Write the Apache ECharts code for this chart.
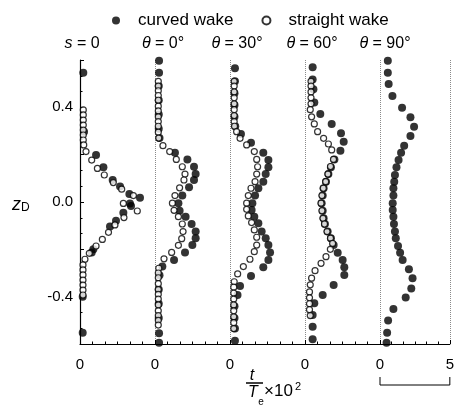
<!DOCTYPE html>
<html>
<head>
<meta charset="utf-8">
<script src="https://cdn.jsdelivr.net/npm/echarts@6/dist/echarts.min.js"></script>
<style>html,body{margin:0;padding:0;background:#fff;}#main{width:457px;height:410px;}</style>
</head>
<body>
<div id="main"></div>
<script>
// ---- data: [t/Te x 10^2 , zD] per panel ----
const panelSymbols = ['s', 'θ', 'θ', 'θ', 'θ'];
const panelValues = ['0', '0°', '30°', '60°', '90°'];
const xTickLabels = ['0', '5'];
const yTickValues = [-0.4, 0, 0.4];

const curvedS0 = [[0.22,0.546],[0.27,0.297],[1.07,0.199],[1.56,0.147],[2.18,0.093],[2.67,0.065],[3.29,0.034],[4.0,0.018],[3.33,-0.006],[3.4,-0.017],[2.89,-0.045],[2.4,-0.079],[2.0,-0.104],[0.89,-0.2],[0.78,-0.213],[0.18,-0.4],[0.18,-0.552]];
const straightS0 = [[0.22,0.389],[0.22,0.368],[0.22,0.346],[0.22,0.325],[0.22,0.304],[0.22,0.283],[0.22,0.262],[0.25,0.241],[0.4,0.213],[0.78,0.177],[1.16,0.142],[1.62,0.114],[2.22,0.082],[2.78,0.054],[3.56,0.027],[2.89,-0.006],[3.82,-0.038],[2.93,-0.066],[2.33,-0.097],[1.9,-0.128],[1.49,-0.158],[1.07,-0.186],[0.62,-0.217],[0.33,-0.242],[0.2,-0.266],[0.2,-0.287],[0.2,-0.308],[0.2,-0.33],[0.2,-0.351],[0.2,-0.372],[0.2,-0.393]];

const curvedT0 = [[0.27,0.597],[0.27,0.546],[0.25,0.49],[0.25,0.43],[0.25,0.37],[0.25,0.31],[0.3,0.27],[1.33,0.208],[2.16,0.18],[2.6,0.149],[2.71,0.118],[2.6,0.093],[2.27,0.062],[1.82,0.027],[1.56,-0.005],[1.64,-0.037],[2.04,-0.062],[2.44,-0.093],[2.71,-0.125],[2.71,-0.153],[2.49,-0.182],[2.0,-0.213],[1.27,-0.245],[0.49,-0.273],[0.3,-0.31],[0.25,-0.37],[0.25,-0.43],[0.25,-0.49],[0.27,-0.555],[0.27,-0.595]];
const straightT0 = [[0.22,0.51],[0.22,0.49],[0.22,0.47],[0.22,0.45],[0.22,0.43],[0.22,0.405],[0.22,0.385],[0.22,0.36],[0.22,0.34],[0.22,0.32],[0.22,0.295],[0.25,0.27],[0.53,0.238],[0.98,0.213],[1.42,0.18],[1.82,0.149],[2.0,0.118],[1.93,0.093],[1.64,0.06],[1.33,0.027],[1.16,-0.005],[1.27,-0.035],[1.56,-0.062],[1.82,-0.093],[1.87,-0.125],[1.78,-0.155],[1.56,-0.183],[1.11,-0.213],[0.6,-0.24],[0.25,-0.28],[0.22,-0.30],[0.22,-0.32],[0.22,-0.345],[0.22,-0.37],[0.22,-0.39],[0.22,-0.41],[0.22,-0.435],[0.22,-0.46],[0.22,-0.48],[0.22,-0.50],[0.22,-0.52]];

const curvedT30 = [[0.33,0.565],[0.33,0.51],[0.3,0.46],[0.3,0.41],[0.3,0.36],[0.35,0.32],[0.73,0.287],[1.4,0.25],[2.22,0.208],[2.56,0.177],[2.56,0.147],[2.38,0.118],[2.22,0.086],[1.89,0.058],[1.67,0.027],[1.49,-0.005],[1.44,-0.034],[1.62,-0.062],[1.89,-0.09],[2.11,-0.125],[2.38,-0.153],[2.56,-0.182],[2.67,-0.213],[2.56,-0.245],[2.22,-0.276],[1.4,-0.313],[0.67,-0.355],[0.5,-0.393],[0.3,-0.44],[0.3,-0.49],[0.33,-0.534],[0.33,-0.586]];
const straightT30 = [[0.28,0.51],[0.28,0.49],[0.28,0.465],[0.28,0.44],[0.28,0.415],[0.28,0.39],[0.28,0.365],[0.28,0.34],[0.3,0.32],[0.44,0.297],[0.67,0.269],[1.11,0.241],[1.62,0.213],[1.78,0.18],[1.84,0.149],[1.78,0.118],[1.67,0.086],[1.4,0.058],[1.22,0.027],[1.11,-0.005],[1.11,-0.031],[1.22,-0.059],[1.44,-0.087],[1.62,-0.118],[1.78,-0.149],[1.78,-0.182],[1.62,-0.21],[1.33,-0.242],[0.89,-0.273],[0.51,-0.304],[0.28,-0.337],[0.25,-0.36],[0.25,-0.385],[0.25,-0.41],[0.25,-0.435],[0.25,-0.46],[0.25,-0.485],[0.25,-0.51],[0.25,-0.535]];

const curvedT60 = [[0.51,0.569],[0.51,0.518],[0.56,0.476],[0.62,0.42],[1.02,0.372],[1.78,0.33],[2.4,0.29],[2.58,0.255],[2.36,0.217],[1.96,0.18],[1.73,0.147],[1.56,0.118],[1.4,0.086],[1.24,0.058],[1.18,0.027],[1.11,-0.005],[1.18,-0.037],[1.24,-0.069],[1.33,-0.093],[1.51,-0.125],[1.73,-0.153],[1.91,-0.182],[2.18,-0.214],[2.51,-0.245],[2.62,-0.276],[2.62,-0.308],[1.91,-0.351],[1.18,-0.393],[0.62,-0.428],[0.51,-0.477],[0.51,-0.527],[0.51,-0.58]];
const straightT60 = [[0.4,0.51],[0.4,0.49],[0.4,0.465],[0.4,0.44],[0.4,0.415],[0.35,0.39],[0.44,0.36],[0.62,0.33],[0.84,0.297],[1.24,0.269],[1.56,0.245],[1.78,0.22],[1.9,0.18],[1.7,0.15],[1.53,0.118],[1.38,0.086],[1.22,0.058],[1.13,0.027],[1.07,-0.005],[1.13,-0.037],[1.2,-0.069],[1.3,-0.093],[1.47,-0.125],[1.7,-0.153],[1.84,-0.175],[1.69,-0.2],[1.4,-0.231],[1.07,-0.259],[0.67,-0.29],[0.44,-0.322],[0.35,-0.35],[0.3,-0.38],[0.3,-0.405],[0.3,-0.43],[0.3,-0.455],[0.35,-0.48]];

const curvedT90 = [[0.56,0.597],[0.56,0.546],[0.62,0.499],[0.89,0.448],[1.58,0.398],[2.18,0.358],[2.44,0.318],[2.18,0.279],[1.73,0.238],[1.51,0.208],[1.33,0.177],[1.18,0.147],[1.07,0.114],[1.02,0.086],[0.96,0.058],[0.96,0.027],[0.91,-0.005],[0.91,-0.034],[0.96,-0.062],[1.0,-0.093],[1.07,-0.125],[1.13,-0.153],[1.29,-0.186],[1.44,-0.214],[1.62,-0.245],[2.07,-0.284],[2.33,-0.322],[2.24,-0.365],[1.84,-0.404],[0.96,-0.452],[0.58,-0.501],[0.51,-0.552],[0.47,-0.595]];

const curvedPanels = [curvedS0, curvedT0, curvedT30, curvedT60, curvedT90];
const straightPanels = [straightS0, straightT0, straightT30, straightT60, null];

// ---- layout / style ----
const FONT = '"Liberation Sans", Arial, Helvetica, sans-serif';
const N = 5, PLOT_LEFT = 80, PANEL_W = 75, PLOT_TOP = 60, PLOT_H = 284;
const titleCenters = [82, 163, 237, 312, 385];

const grids = [], xAxes = [], yAxes = [], series = [];
for (let i = 0; i < N; i++) {
  grids.push({ left: PLOT_LEFT + PANEL_W * i, top: PLOT_TOP, width: PANEL_W, height: PLOT_H });
  xAxes.push({
    gridIndex: i, type: 'value', min: 0, max: 5, interval: 5,
    axisLine: { show: true, onZero: false, lineStyle: { color: '#000', width: 1.2 } },
    axisTick: { show: true, inside: true, length: 4, lineStyle: { color: '#000' } },
    minorTick: { show: true, splitNumber: 6, length: 2.5, lineStyle: { color: '#000' } },
    axisLabel: {
      customValues: i === N - 1 ? [0, 5] : [0],
      formatter: v => (v === 5 ? xTickLabels[1] : xTickLabels[0]),
      fontSize: 15, color: '#000', margin: 13, fontFamily: FONT
    },
    splitLine: { show: true, lineStyle: { type: 'dotted', color: '#8a8a8a', width: 1 } }
  });
  if (i === 0) {
    yAxes.push({
      gridIndex: 0, type: 'value', min: -0.6, max: 0.6, interval: 0.2,
      axisLine: { show: true, onZero: false, lineStyle: { color: '#000', width: 1.2 } },
      axisTick: { show: true, inside: true, length: 4, lineStyle: { color: '#000' } },
      minorTick: { show: true, splitNumber: 3, length: 2.5, lineStyle: { color: '#000' } },
      axisLabel: { customValues: yTickValues, formatter: v => v.toFixed(1), fontSize: 15, color: '#000', margin: 7, fontFamily: FONT },
      splitLine: { show: false }
    });
  } else {
    yAxes.push({ gridIndex: i, type: 'value', min: -0.6, max: 0.6, show: false });
  }
  series.push({
    type: 'scatter', name: 'curved wake', xAxisIndex: i, yAxisIndex: i,
    data: curvedPanels[i], symbol: 'circle', symbolSize: 8,
    itemStyle: { color: '#000' }, z: 2, emphasis: { disabled: true }
  });
  if (straightPanels[i]) {
    series.push({
      type: 'scatter', name: 'straight wake', xAxisIndex: i, yAxisIndex: i,
      data: straightPanels[i], symbol: 'circle', symbolSize: 6,
      itemStyle: { color: '#fff', borderColor: '#000', borderWidth: 1.2 }, z: 3, emphasis: { disabled: true }
    });
  }
}

const chart = echarts.init(document.getElementById('main'), null, { renderer: 'canvas' });
chart.setOption({
  animation: false,
  backgroundColor: '#fff',
  grid: grids, xAxis: xAxes, yAxis: yAxes, series: series,
  legend: {
    data: ['curved wake', 'straight wake'], icon: 'circle',
    left: 107, top: 7, itemWidth: 34, itemHeight: 8, itemGap: 28, selectedMode: false,
    textStyle: { fontSize: 17, color: '#000', fontFamily: FONT }
  }
});

// ---- annotations (titles, axis names, scale bracket) ----
const g = [];
for (let i = 0; i < N; i++) {
  g.push({
    type: 'text', x: titleCenters[i], y: 44,
    style: {
      text: '{i|' + panelSymbols[i] + '} = ' + panelValues[i],
      align: 'center', verticalAlign: 'middle', fontSize: 16, fontFamily: FONT, fill: '#000',
      rich: { i: { fontStyle: 'italic', fontSize: 16, fontFamily: FONT, fill: '#000' } }
    }
  });
}
// y axis name zD
g.push({ type: 'text', x: 12, y: 205, style: { text: 'z', fontStyle: 'italic', fontSize: 18, fontFamily: FONT, fill: '#000', verticalAlign: 'middle' } });
g.push({ type: 'text', x: 21, y: 208, style: { text: 'D', fontSize: 12, fontFamily: FONT, fill: '#000', verticalAlign: 'middle' } });
// x axis name  t/Te x10^2
g.push({ type: 'text', x: 252, y: 376, style: { text: 't', fontStyle: 'italic', fontSize: 16, fontFamily: FONT, fill: '#000', align: 'center', verticalAlign: 'middle' } });
g.push({ type: 'line', shape: { x1: 246, y1: 383, x2: 263, y2: 383 }, style: { stroke: '#000', lineWidth: 1.5 } });
g.push({ type: 'text', x: 253, y: 393, style: { text: 'T', fontStyle: 'italic', fontSize: 16, fontFamily: FONT, fill: '#000', align: 'center', verticalAlign: 'middle' } });
g.push({ type: 'text', x: 261, y: 402, style: { text: 'e', fontSize: 10, fontFamily: FONT, fill: '#000', align: 'center', verticalAlign: 'middle' } });
g.push({ type: 'text', x: 264, y: 391, style: { text: '×10', fontSize: 17, fontFamily: FONT, fill: '#000', align: 'left', verticalAlign: 'middle' } });
g.push({ type: 'text', x: 295, y: 387, style: { text: '2', fontSize: 11, fontFamily: FONT, fill: '#000', align: 'left', verticalAlign: 'middle' } });
// scale bracket under the last panel (0..5)
const bx0 = chart.convertToPixel({ xAxisIndex: N - 1 }, 0);
const bx1 = chart.convertToPixel({ xAxisIndex: N - 1 }, 5);
g.push({ type: 'polyline', shape: { points: [[bx0, 377], [bx0, 385], [bx1, 385], [bx1, 377]] }, style: { stroke: '#000', lineWidth: 1, fill: null } });

chart.setOption({ graphic: g });
</script>
</body>
</html>
